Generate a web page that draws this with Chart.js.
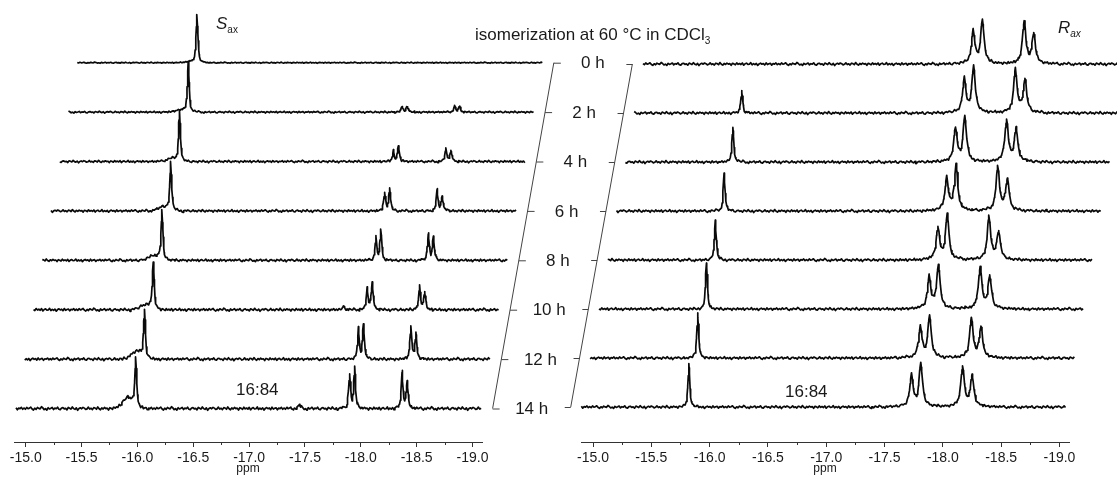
<!DOCTYPE html>
<html>
<head>
<meta charset="utf-8">
<script src="https://cdn.jsdelivr.net/npm/chart.js@4.4.0/dist/chart.umd.min.js"></script>
<style>
  html, body { margin: 0; padding: 0; background: #fff; }
  #wrap {
    position: relative; width: 1117px; height: 477px; overflow: hidden;
    font-family: "Liberation Sans", Arial, sans-serif; color: #1a1a1a;
  }
  #wrap canvas { position: absolute; left: 0; top: 0; }
  .lbl { position: absolute; white-space: nowrap; line-height: 1; font-size: 17px; }
  .lbl sub { font-size: 10px; vertical-align: -4px; line-height: 0; }
  .it { font-style: italic; }
</style>
</head>
<body>
<div id="wrap">
  <canvas id="sChart" width="1117" height="477"></canvas>
  <canvas id="rChart" width="1117" height="477"></canvas>
  <div class="lbl" style="left:475px; top:26px;">isomerization at 60 °C in CDCl<sub>3</sub></div>
  <div class="lbl" style="left:216px; top:15px;"><span class="it">S</span><sub>ax</sub></div>
  <div class="lbl" style="left:1058px; top:19px;"><span class="it">R</span><sub class="it">ax</sub></div>
  <div class="lbl" style="left:236px; top:381px;">16:84</div>
  <div class="lbl" style="left:785px; top:383px;">16:84</div>
</div>
<script>
// ---- data ----
const hours = ['0 h', '2 h', '4 h', '6 h', '8 h', '10 h', '12 h', '14 h'];
const ppmTicks = [-15.0, -15.5, -16.0, -16.5, -17.0, -17.5, -18.0, -18.5, -19.0];

// S_ax series (left stack): peak positions (ppm) and heights per time point
const sPeakPpm = [-15.985, -15.915, -17.900, -17.945, -18.370, -18.415, -17.695, -17.450];
const sMainH     = [48, 49, 50, 48, 48, 47, 47.6, 47.6];
const sShoulderH = [1, 2, 3, 4, 5, 5, 8, 11];
const sD1aH      = [0, 5.5, 11, 18, 23, 21.7, 30, 34];
const sD1bH      = [0, 6, 15.6, 23, 30, 28.3, 36, 41];
const sD2aH      = [0, 6, 13, 20.7, 27.4, 24, 33, 36];
const sD2bH      = [0, 5.5, 11.6, 15.7, 23, 18.3, 25.6, 28];
const sSmallAH   = [0, 0, 0, 0, 0, 3.5, 0, 0];
const sSmallBH   = [0, 0, 0, 0, 0, 0, 0, 4];
const sWindow = [-14.913, -19.082];

// R_ax series (right stack)
const rPeakPpm = [-15.822, -17.731, -17.811, -18.169, -18.251];
const rMainH = [0, 22.3, 35, 38.4, 41, 45.5, 44.5, 42.5];
const rD1aH  = [32.6, 33.3, 33, 33, 31.5, 31.8, 30.8, 30.8];
const rD1bH  = [43.8, 46.3, 45.5, 45, 45, 44.5, 42, 43.5];
const rD2aH  = [42.8, 43.5, 42.8, 44, 42.8, 42, 39.8, 41];
const rD2bH  = [29.8, 33.3, 33, 32, 29, 31.8, 30.8, 30.8];
const rWindow = [-14.90, -19.06];

// line shapes: |offset| in ppm -> fraction of peak height
const sharpShape  = { off: [0, 0.005, 0.011, 0.016, 0.022, 0.031, 0.045, 0.07, 0.11],
                      frac: [1, 0.75, 0.45, 0.25, 0.12, 0.06, 0.03, 0.01, 0] };
const broadShape  = { off: [0, 0.009, 0.017, 0.026, 0.034, 0.043, 0.06, 0.086, 0.13, 0.21, 0.34],
                      frac: [1, 0.8, 0.5, 0.31, 0.2, 0.14, 0.075, 0.04, 0.018, 0.006, 0] };
const humpShape   = { off: [0, 0.03, 0.06, 0.09, 0.13], frac: [1, 0.8, 0.45, 0.15, 0] };

// baseline noise, shared by all traces
const baselineNoise = [0.4, -0.6, 0.9, -0.2, 0.3, 1.1, -0.4, -1.2, 0.2, -0.7, 0.8, 0.1, -0.3, 1.4,
  0.5, -0.9, -0.1, -1.3, 0.6, -0.4, 0.2, 0.9, -0.8, 0.3, -0.2, 1.0, -0.6, -1.0, 0.4, 0.7, -0.3, 0.1,
  -1.1, 0.8, 0.2, -0.5, 1.2, -0.1, -0.7, 0.5, -1.4, 0.0, 0.6, -0.2, 0.9, 0.3, -0.8, -0.3, 1.1, -0.5,
  0.2, -0.9, 0.7, 0.4, -0.6, 1.3, -0.2, -1.0, 0.5, -0.4, 0.8, -0.1, 0.3, -1.2, 0.6, 0.1, -0.7, 1.0,
  -0.3, 0.4, -0.5, 0.9, -1.1, 0.2, 0.7, -0.4, -0.2, 1.2, -0.8, 0.3, -0.6, 0.5, -1.3, 0.1, 0.8, -0.2,
  0.4, -0.9, 1.0, -0.5, 0.2, 0.6, -1.0, 0.3, -0.1, 0.9, -0.6];
const sNoise = [0.45, 0.75, 0.9, 1.0, 1.05, 1.15, 1.15, 1.25];
const rNoise = [1.1, 1.1, 1.1, 1.1, 1.1, 1.1, 1.1, 1.1];

// ---- stacking / layout ----
const FONT = '"Liberation Sans", Arial, sans-serif';
const INK = '#0a0a0a';
const GRID = 0.012;
const Y_MAX = 442;

const sStack = { shift: 0.0783, step: 49.4, base: 33.5 };
const rStack = { shift: 0.0755, step: 49.0, base: 35 };

function shapeAt(shape, d) {
  d = Math.abs(d);
  const o = shape.off, f = shape.frac;
  if (d >= o[o.length - 1]) return 0;
  for (let i = 1; i < o.length; i++) {
    if (d < o[i]) {
      const t = (d - o[i - 1]) / (o[i] - o[i - 1]);
      return f[i - 1] + t * (f[i] - f[i - 1]);
    }
  }
  return 0;
}

function buildTraces(peaks, win, stack, noiseAmp) {
  const n = hours.length;
  const [from, to] = win;
  return hours.map((label, k) => {
    const back = n - 1 - k;
    const dx = back * stack.shift;
    const level = stack.base + back * stack.step;
    const xs = [];
    for (let x = from; x >= to; x -= GRID) xs.push(x);
    peaks.forEach(p => {
      if (!p.h[k]) return;
      p.shape.off.forEach(o => xs.push(p.ppm + o, p.ppm - o));
    });
    const sorted = xs.filter(x => x <= from && x >= to).sort((a, b) => b - a);
    const data = [];
    let last = null;
    sorted.forEach(x => {
      if (last !== null && Math.abs(x - last) < 1e-6) return;
      last = x;
      const idx = (Math.round((from - x) / GRID) + k * 13) % baselineNoise.length;
      let y = level + baselineNoise[idx] * noiseAmp[k];
      peaks.forEach(p => { if (p.h[k]) y += p.h[k] * shapeAt(p.shape, x - p.ppm); });
      data.push({ x: x - dx, y });
    });
    return {
      label, data,
      borderColor: INK, borderWidth: 1.7, borderJoinStyle: 'round',
      pointRadius: 0, tension: 0, clip: false,
    };
  });
}

const sPeaks = [
  { ppm: sPeakPpm[0], h: sMainH, shape: sharpShape },
  { ppm: sPeakPpm[1], h: sShoulderH, shape: humpShape },
  { ppm: sPeakPpm[2], h: sD1aH, shape: sharpShape },
  { ppm: sPeakPpm[3], h: sD1bH, shape: sharpShape },
  { ppm: sPeakPpm[4], h: sD2aH, shape: sharpShape },
  { ppm: sPeakPpm[5], h: sD2bH, shape: sharpShape },
  { ppm: sPeakPpm[6], h: sSmallAH, shape: sharpShape },
  { ppm: sPeakPpm[7], h: sSmallBH, shape: sharpShape },
];
const rPeaks = [
  { ppm: rPeakPpm[0], h: rMainH, shape: sharpShape },
  { ppm: rPeakPpm[1], h: rD1aH, shape: broadShape },
  { ppm: rPeakPpm[2], h: rD1bH, shape: broadShape },
  { ppm: rPeakPpm[3], h: rD2aH, shape: broadShape },
  { ppm: rPeakPpm[4], h: rD2bH, shape: broadShape },
];

// minor ticks between the labelled ones
const minorTicks = {
  id: 'minorTicks',
  afterDraw(chart) {
    const { ctx, scales: { x }, chartArea } = chart;
    ctx.save();
    ctx.strokeStyle = '#333';
    ctx.lineWidth = 1;
    ctx.beginPath();
    for (let i = 0; i < ppmTicks.length - 1; i++) {
      const px = Math.round(x.getPixelForValue((ppmTicks[i] + ppmTicks[i + 1]) / 2)) + 0.5;
      ctx.moveTo(px, chartArea.bottom);
      ctx.lineTo(px, chartArea.bottom + 3);
    }
    ctx.stroke();
    ctx.restore();
  },
};

// slanted time axis that follows the stacking offset
const stackAxis = {
  id: 'stackAxis',
  afterDatasetsDraw(chart, args, opts) {
    if (!opts || opts.ppm === undefined) return;
    const { ctx, scales: { x, y } } = chart;
    const n = hours.length;
    const pts = hours.map((h, k) => {
      const back = n - 1 - k;
      return [x.getPixelForValue(opts.ppm - back * opts.stack.shift),
              y.getPixelForValue(opts.stack.base + back * opts.stack.step)];
    });
    ctx.save();
    ctx.strokeStyle = '#444';
    ctx.lineWidth = 1;
    ctx.beginPath();
    ctx.moveTo(pts[0][0], pts[0][1]);
    ctx.lineTo(pts[n - 1][0], pts[n - 1][1]);
    pts.forEach(([px, py]) => {
      ctx.moveTo(px, py + 0.5);
      ctx.lineTo(px + opts.tick, py + 0.5);
    });
    ctx.stroke();
    if (opts.labelPpm !== undefined) {
      ctx.fillStyle = '#1a1a1a';
      ctx.font = '17px ' + FONT;
      ctx.textAlign = 'center';
      ctx.textBaseline = 'middle';
      hours.forEach((h, k) => {
        const back = n - 1 - k;
        ctx.fillText(h, x.getPixelForValue(opts.labelPpm - back * opts.stack.shift),
                        y.getPixelForValue(opts.stack.base + back * opts.stack.step) + 1);
      });
    }
    ctx.restore();
  },
};

function makeScaleX(range) {
  return {
    type: 'linear', reverse: true, min: range[1], max: range[0],
    afterBuildTicks: s => { s.ticks = ppmTicks.map(v => ({ value: v })); },
    afterFit: s => { s.height = 477 - Y_MAX; },
    border: { display: true, color: '#333', width: 1 },
    grid: { display: true, drawOnChartArea: false, drawTicks: true, tickLength: 5, color: '#333', lineWidth: 1 },
    ticks: {
      autoSkip: false, maxRotation: 0, padding: 3, color: '#1a1a1a',
      font: { family: FONT, size: 14 },
      callback: v => v.toFixed(1),
    },
    title: { display: true, text: 'ppm', color: '#1a1a1a', font: { family: FONT, size: 12 }, padding: { top: 0, bottom: 1 } },
  };
}

function makeChart(id, traces, range, pad, axisOpts) {
  return new Chart(document.getElementById(id), {
    type: 'line',
    data: { datasets: traces },
    options: {
      responsive: false,
      animation: false,
      events: [],
      layout: { padding: pad },
      plugins: { legend: { display: false }, tooltip: { enabled: false }, stackAxis: axisOpts },
      scales: {
        x: makeScaleX(range),
        y: { display: false, min: 0, max: Y_MAX },
      },
    },
    plugins: [minorTicks, stackAxis],
  });
}

makeChart('sChart', buildTraces(sPeaks, sWindow, sStack, sNoise),
  [-14.895, -19.085], { left: 14, right: 1117 - 482, top: 0, bottom: 0 },
  { ppm: -19.18, tick: 7, labelPpm: -19.53, stack: sStack });

makeChart('rChart', buildTraces(rPeaks, rWindow, rStack, rNoise),
  [-14.897, -19.082], { left: 581, right: 1117 - 1069, top: 0, bottom: 0 },
  { ppm: -14.809, tick: -6, stack: rStack });
</script>
</body>
</html>
